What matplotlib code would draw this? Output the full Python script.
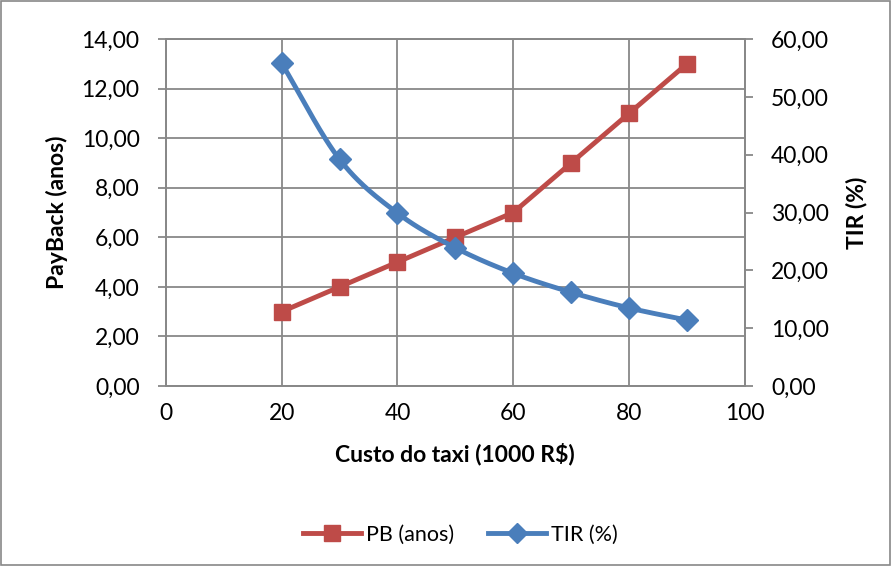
import numpy as np
import matplotlib.pyplot as plt
from matplotlib.ticker import FuncFormatter

plt.rcParams["font.family"] = ["Lato", "DejaVu Sans"]

custo = [20, 30, 40, 50, 60, 70, 80, 90]
pb_anos = [3, 4, 5, 6, 7, 9, 11, 13]
tir_pct = [55.8, 39.2, 29.9, 23.9, 19.5, 16.2, 13.5, 11.4]

RED = "#be4b48"
BLUE = "#4a7ebb"
GRID = "#888888"


def smooth(x, y, n=30):
    # Catmull-Rom curve through the points, like Excel's smoothed line
    x = np.asarray(x, float)
    y = np.asarray(y, float)
    px = np.concatenate([[2 * x[0] - x[1]], x, [2 * x[-1] - x[-2]]])
    py = np.concatenate([[2 * y[0] - y[1]], y, [2 * y[-1] - y[-2]]])
    xs, ys = [], []
    t = np.linspace(0, 1, n)
    for i in range(1, len(px) - 2):
        for p, out in ((px, xs), (py, ys)):
            p0, p1, p2, p3 = p[i - 1], p[i], p[i + 1], p[i + 2]
            out.extend(0.5 * ((2 * p1) + (-p0 + p2) * t
                              + (2 * p0 - 5 * p1 + 4 * p2 - p3) * t ** 2
                              + (-p0 + 3 * p1 - 3 * p2 + p3) * t ** 3))
    return xs, ys


def br(dec):
    return FuncFormatter(lambda v, _: f"{v:.{dec}f}".replace(".", ","))


fig = plt.figure(figsize=(8.92, 5.66), dpi=100)
ax = fig.add_axes([0.186, 0.318, 0.649, 0.613])
ax2 = ax.twinx()

ax.plot(custo, pb_anos, color=RED, lw=3.5, marker="s", ms=12, zorder=3)
sx, sy = smooth(custo, tir_pct)
ax2.plot(sx, sy, color=BLUE, lw=3.5, zorder=3)
ax2.plot(custo, tir_pct, color=BLUE, lw=0, marker="D", ms=11, zorder=4)

ax.set_xlim(0, 100)
ax.set_ylim(0, 14)
ax2.set_ylim(0, 60)
ax.set_xticks(range(0, 101, 20))
ax.set_yticks(np.arange(0, 14.1, 2))
ax2.set_yticks(range(0, 61, 10))
ax.yaxis.set_major_formatter(br(2))
ax2.yaxis.set_major_formatter(br(2))

ax.grid(True, color=GRID, lw=1.3)
ax.set_axisbelow(True)
for a in (ax, ax2):
    for s in a.spines.values():
        s.set_color(GRID)
        s.set_linewidth(1.3)
    a.tick_params(labelsize=16.5, color=GRID, length=6, width=1.3, pad=13)
ax.tick_params(axis="x", length=0, pad=12)

ax.set_xlabel("Custo do taxi (1000 R$)", fontsize=16.5, fontweight="bold", labelpad=14)
ax.set_ylabel("PayBack (anos)", fontsize=16.5, fontweight="bold", labelpad=10)
ax2.set_ylabel("TIR (%)", fontsize=16.5, fontweight="bold", labelpad=12)

h1 = plt.Line2D([], [], color=RED, lw=3.5, marker="s", ms=12)
h2 = plt.Line2D([], [], color=BLUE, lw=3.5, marker="D", ms=10)
fig.legend([h1, h2], ["PB (anos)", "TIR (%)"], loc="center",
           bbox_to_anchor=(0.516, 0.055), ncol=2, frameon=False,
           fontsize=15.5, handlelength=2.7, columnspacing=1.6, handletextpad=0.2)

fig.patches.append(plt.Rectangle((0.001, 0.001), 0.997, 0.997, transform=fig.transFigure,
                                 fill=False, edgecolor=GRID, lw=1.2))

fig.savefig("out.png", dpi=100)
